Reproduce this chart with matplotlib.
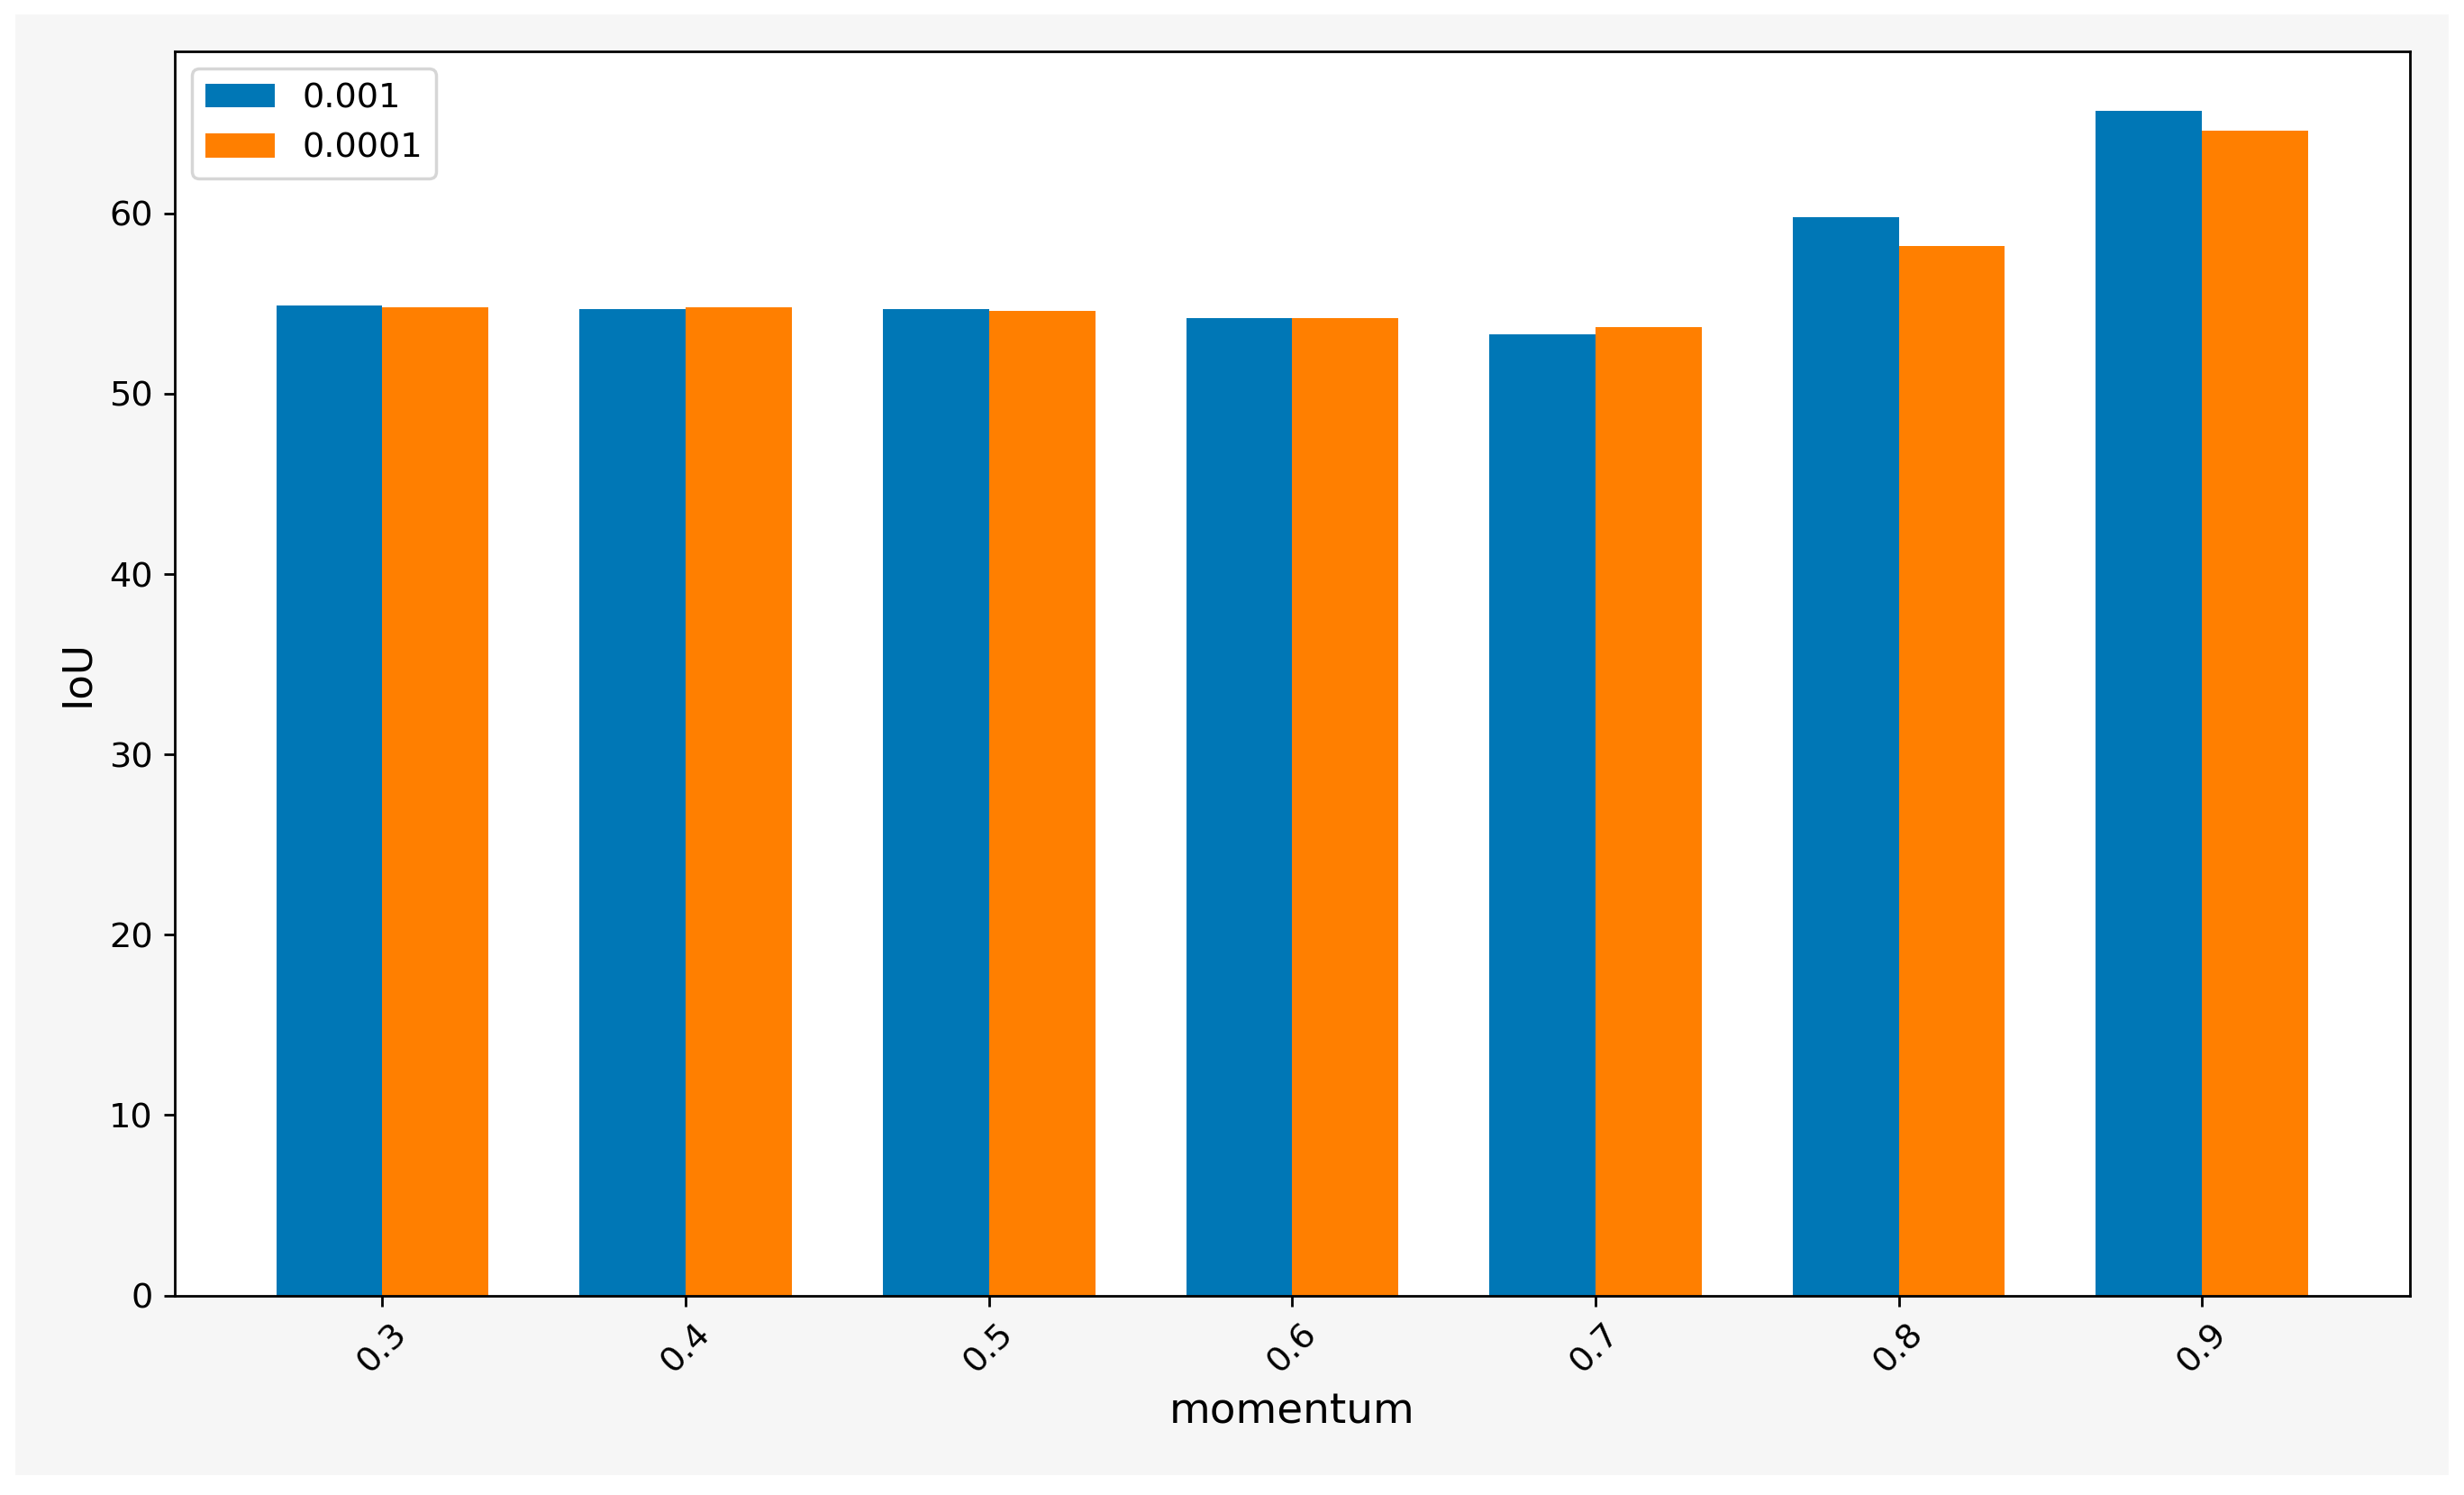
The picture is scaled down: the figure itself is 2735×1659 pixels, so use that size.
import matplotlib.pyplot as plt
import numpy as np
from matplotlib.patches import Rectangle

# values
momentum = ['0.3', '0.4', '0.5', '0.6', '0.7', '0.8', '0.9']
iou_lr_001 = [54.9, 54.7, 54.7, 54.2, 53.3, 59.8, 65.7]
iou_lr_0001 = [54.8, 54.8, 54.6, 54.2, 53.7, 58.2, 64.6]
series_labels = ['0.001', '0.0001']

blue = '#0077b6'
orange = '#ff7f00'

fig = plt.figure(figsize=(10.94, 6.636), dpi=250, facecolor='white')
# light grey panel behind the plot
fig.patches.append(Rectangle((17 / 2735, 1 - 1637 / 1659), (2718 - 17) / 2735, (1637 - 16) / 1659,
                             transform=fig.transFigure, facecolor='#f6f6f6', edgecolor='none', zorder=-10))

ax = fig.add_axes([0.0709, 0.1335, 0.978 - 0.0709, 0.9656 - 0.1335])
ax.set_facecolor('white')

x = np.arange(len(momentum))
w = 0.35
ax.bar(x - w / 2, iou_lr_001, w, color=blue, label=series_labels[0])
ax.bar(x + w / 2, iou_lr_0001, w, color=orange, label=series_labels[1])

ax.set_xticks(x)
ax.set_xticklabels(momentum, rotation=45)
ax.tick_params(labelsize=11)
ax.set_xlabel('momentum', fontsize=13.5)
ax.set_ylabel('IoU', fontsize=13)
ax.legend(loc='upper left', fontsize=11)

fig.savefig('out.png', dpi=250, facecolor=fig.get_facecolor())
